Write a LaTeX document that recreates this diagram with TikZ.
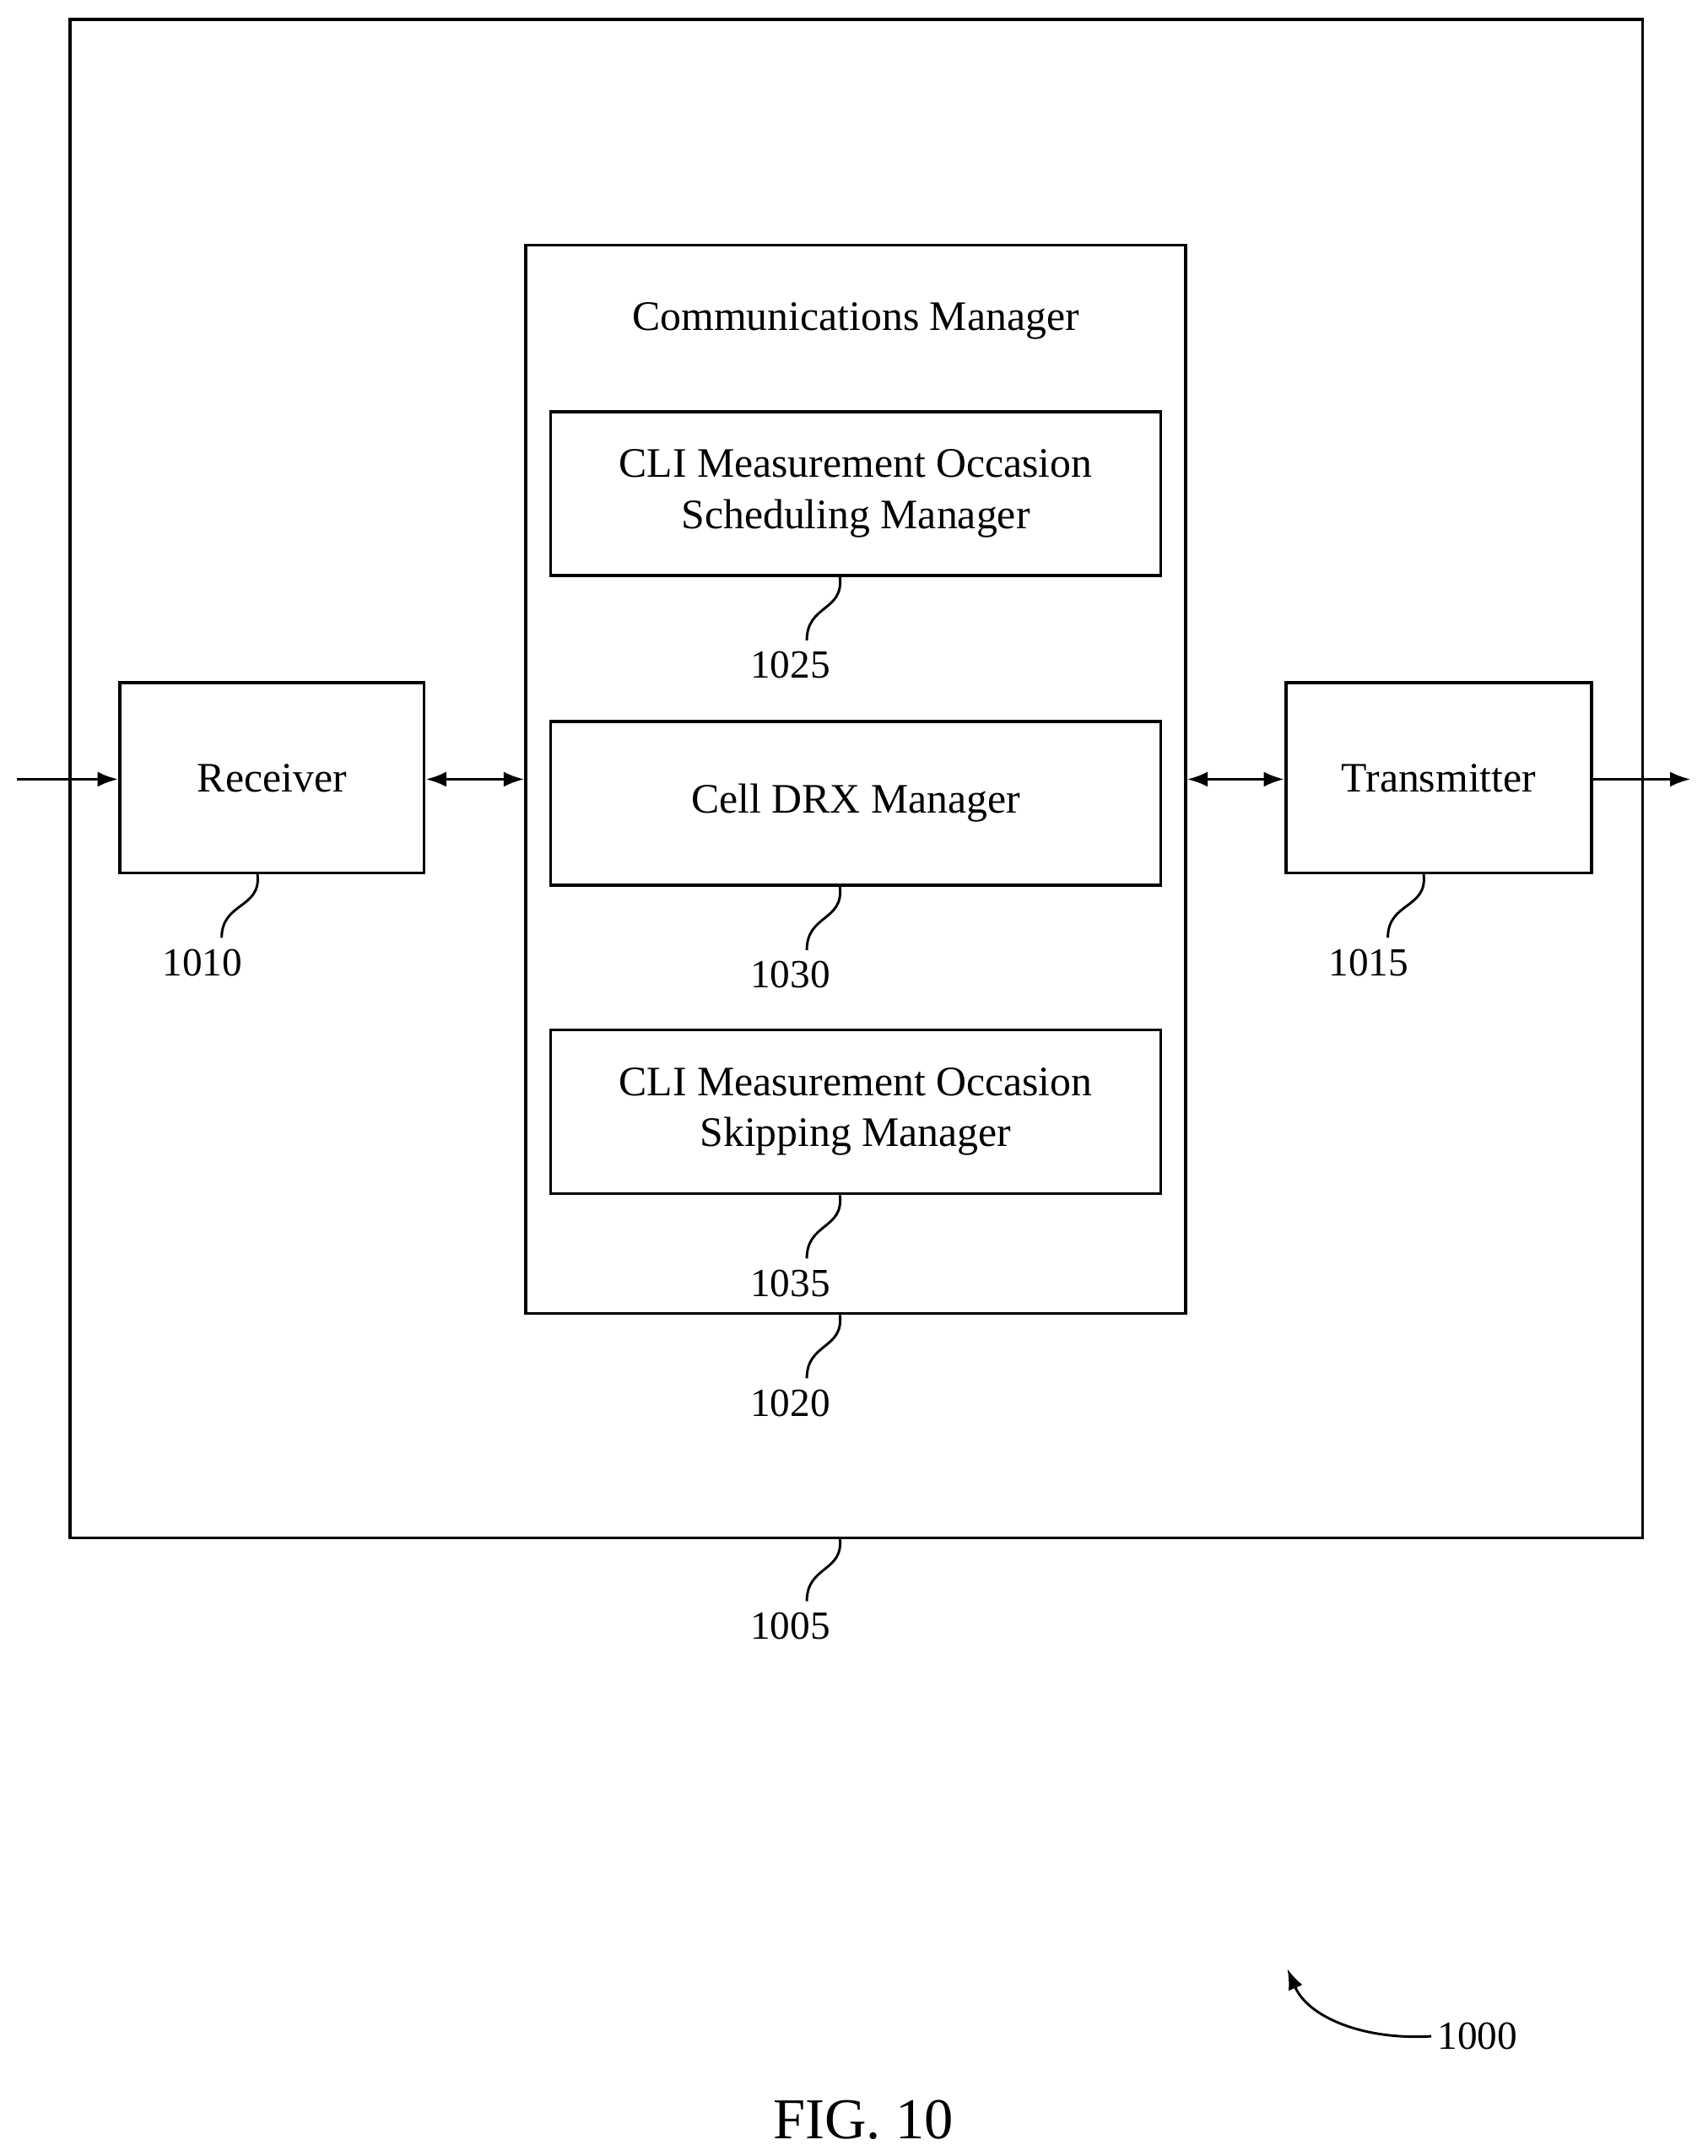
\documentclass[tikz,border=0pt]{standalone}
\usepackage{fontspec}
\setmainfont{Liberation Serif}
\usetikzlibrary{arrows.meta}
\begin{document}
\begin{tikzpicture}[x=1pt,y=-1pt,line width=2.2pt,
  box/.style={draw,inner sep=0pt},
  txt/.style={font=\fontsize{30.5}{37}\selectfont,align=center},
  lab/.style={font=\fontsize{29}{33}\selectfont},
  arr/.style={-{Latex[length=15pt,width=11pt]}},darr/.style={{Latex[length=15pt,width=11pt]}-{Latex[length=15pt,width=11pt]}},
  sq/.style={line width=1.8pt}]
\useasboundingbox (0,0) rectangle (1240,1566);
\draw (51,14) rectangle (1193,1117);
\coordinate (outerB) at (610,1117);
\node[box,minimum width=479pt,minimum height=776pt] (cm) at (621.5,566) {};
\node[txt] (cmt) at (621.5,233) {Communications Manager};
\node[box,txt,minimum width=443pt,minimum height=119pt] (b1) at (621.5,358.5) {CLI Measurement Occasion\\Scheduling Manager};
\node[box,txt,minimum width=443pt,minimum height=119pt] (b2) at (621.5,583.5) {Cell DRX Manager};
\node[box,txt,minimum width=443pt,minimum height=119pt] (b3) at (621.5,807.5) {CLI Measurement Occasion\\Skipping Manager};
\node[box,txt,minimum width=221pt,minimum height=138pt] (rx) at (197.5,565) {Receiver};
\node[box,txt,minimum width=222pt,minimum height=138pt] (tx) at (1045,565) {Transmitter};
\coordinate (in) at (12,566);
\coordinate (out) at (1228,566);
\draw[arr] (in) -- (rx.west|-in);
\draw[darr] (rx.east|-in) -- (cm.west|-in);
\draw[darr] (cm.east|-in) -- (tx.west|-in);
\draw[arr] (tx.east|-in) -- (out);
\tikzset{lb/.style={lab,anchor=north,yshift=-4pt,xshift=-12pt}}
\draw[sq] (b1.south-|610,0) .. controls +(3,25) and +(0,-26) .. +(-24,46) node[lb] (l1025) {1025};
\draw[sq] (b2.south-|610,0) .. controls +(3,25) and +(0,-26) .. +(-24,46) node[lb] (l1030) {1030};
\draw[sq] (b3.south-|610,0) .. controls +(3,25) and +(0,-26) .. +(-24,46) node[lb] (l1035) {1035};
\draw[sq] (cm.south-|610,0) .. controls +(3,25) and +(0,-26) .. +(-24,46) node[lb] (l1020) {1020};
\draw[sq] (outerB) .. controls +(3,25) and +(0,-26) .. +(-24,46) node[lb] (l1005) {1005};
\draw[sq] (rx.south-|187,0) .. controls +(3,25) and +(0,-26) .. +(-26,46) node[lb,xshift=-2pt] (l1010) {1010};
\draw[sq] (tx.south-|1034,0) .. controls +(3,25) and +(0,-26) .. +(-26,46) node[lb,xshift=-2pt] (l1015) {1015};
\node[lab] (l1000) at (1073,1479) {1000};
\draw[sq,-{Latex[length=15pt,width=11pt]}] (l1000.west) .. controls (990,1482) and (950,1465) .. (935,1430);
\node[font=\fontsize{42}{48}\selectfont] (fig) at (627,1540) {FIG. 10};
\end{tikzpicture}
\end{document}
